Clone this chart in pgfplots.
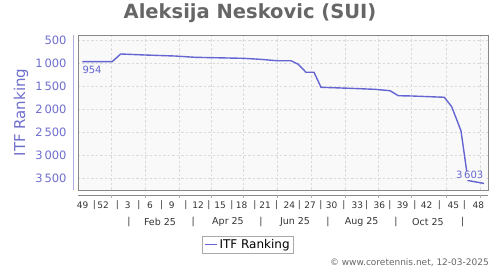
\documentclass[border=0pt]{standalone}
\usepackage{pgfplots}
\pgfplotsset{compat=1.18}
\usepackage{fontspec}
\setmainfont{DejaVu Sans}
\definecolor{lineblue}{RGB}{100,100,210}
\definecolor{ticklab}{RGB}{110,110,205}
\definecolor{yline}{RGB}{175,175,225}
\definecolor{titlegray}{RGB}{102,102,102}
\definecolor{boxgray}{RGB}{136,136,136}
\definecolor{gridgray}{RGB}{218,218,218}
\definecolor{plotbg}{RGB}{249,249,249}
\definecolor{xlab}{RGB}{51,51,51}
\begin{document}
\begin{tikzpicture}[x=1bp,y=1bp]
\useasboundingbox (0,0) rectangle (500,270);
\begin{axis}[
  at={(78bp,80bp)}, anchor=south west,
  width=410bp, height=155bp, scale only axis,
  xmin=78, xmax=488,
  ymin=376, ymax=3746, y dir=reverse,
  axis background/.style={fill=plotbg},
  axis line style={draw=boxgray, line width=0.8pt},
  xtick={111,145.7,179.5,211,243.3,277.7,311.7,345.5,378.3,411.7,446.7,480},
  xticklabels={},
  ytick={500,1000,1500,2000,2500,3000,3500},
  tick style={draw=none},
  grid=major,
  major grid style={gridgray, dash pattern=on 2.5pt off 2pt, line width=0.5pt},
  /pgf/number format/assume math mode=true,
  /pgf/number format/1000 sep={\,},
  yticklabel style={font=\fontsize{11.5bp}{13bp}\selectfont, text=ticklab, xshift=-8bp},
  legend style={at={(0.3024,-0.2948)}, anchor=north west, draw={rgb,255:red,170;green,170;blue,170}, fill=white,
     font=\fontsize{12bp}{14bp}\selectfont, inner xsep=2bp, inner ysep=1.5bp, rounded corners=0pt},
  legend image code/.code={\draw[#1] (0bp,0bp) -- (12bp,0bp);},
  clip=false,
]
\addplot[lineblue, line width=1.4pt] coordinates {
(82.3,954) (112.3,954) (120.7,789) (145,811) (175,833) (195,861)
(243,883) (260,904) (276.7,935) (291,935) (298.3,1013) (306,1187)
(314,1187) (321,1513) (350,1535) (375,1557) (390,1587) (398.3,1696)
(411.7,1702) (444.3,1730) (451.7,1935) (461,2460) (468,3540) (484,3603)
};
\addlegendentry{ITF Ranking}
\end{axis}
% offset axis lines
\draw[yline, line width=0.8pt] (73,80) -- (73,235);
\draw[boxgray, line width=0.8pt] (78,75) -- (488,75);
\foreach \g in {111,145.7,179.5,211,243.3,277.7,311.7,345.5,378.3,411.7,446.7,480}
  \draw[gridgray!80!black, line width=0.5pt] (\g,75) -- (\g,72);
% data labels
\node[anchor=west, inner sep=0pt, text=lineblue, font=\fontsize{10bp}{12bp}\selectfont] at (82.3,200) {954};
\node[anchor=east, inner sep=0.5pt, fill=plotbg, text=lineblue, font=\fontsize{10bp}{12bp}\selectfont] at (484,94.7) {3\,603};
% title
\node[anchor=base, text=titlegray, font=\fontsize{19.5bp}{22bp}\selectfont\bfseries] at (250,251.7) {Aleksija Neskovic (SUI)};
% y label
\node[rotate=90, text=ticklab, font=\fontsize{15bp}{17bp}\selectfont] at (21,157.5) {ITF Ranking};
% week labels
\foreach \x/\l in {82.7/49,103/52,127.7/3,150/6,171.7/9,198/12,220/15,241.7/18,265/21,289.3/24,310/27,331.7/30,357.3/33,379.3/36,402.7/39,426.7/42,453.3/45,478.3/48}
  \node[text=xlab, font=\fontsize{9bp}{11bp}\selectfont, inner sep=0pt] at (\x,65) {\l};
\foreach \x in {94.3,117.3,139,161.7,186,209,232,255,276.7,299.3,321,344,366.7,390,415,439.3,464.3}
  \node[text=xlab, font=\fontsize{9bp}{11bp}\selectfont, inner sep=0pt] at (\x,65) {|};
% month labels
\foreach \x/\l in {160/Feb 25,228/Apr 25,295/Jun 25,361.7/Aug 25,428/Oct 25}
  \node[text=xlab, font=\fontsize{9.5bp}{11bp}\selectfont, inner sep=0pt] at (\x,47.7) {\l};
\foreach \x in {129,193.3,261,328,396,462.7}
  \node[text=xlab, font=\fontsize{9.5bp}{11bp}\selectfont, inner sep=0pt] at (\x,47.7) {|};
% copyright
\node[anchor=east, text=titlegray, font=\fontsize{9bp}{11bp}\selectfont, inner sep=0pt] at (489,7.5) {© www.coretennis.net, 12-03-2025};
\end{tikzpicture}
\end{document}
